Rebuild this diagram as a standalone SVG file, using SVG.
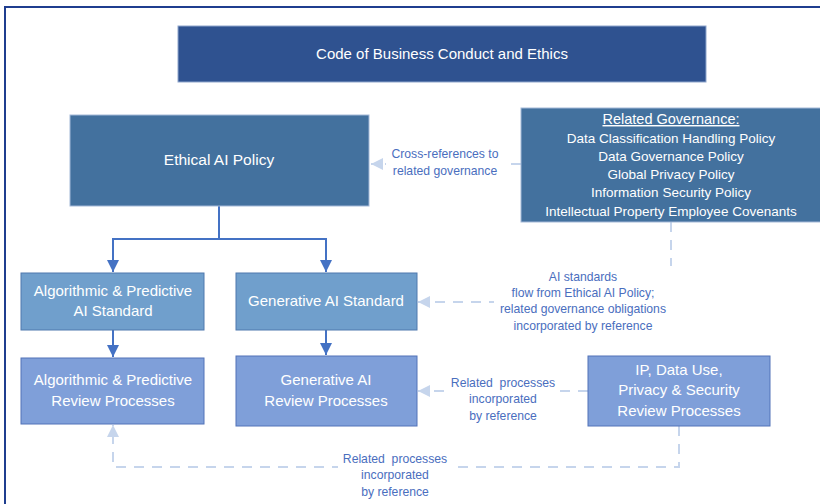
<svg xmlns="http://www.w3.org/2000/svg" width="820" height="504" viewBox="0 0 820 504">
  <defs>
    <style>
      .t { font-family: "Liberation Sans", Arial, sans-serif; fill: #ffffff; text-anchor: middle; }
      .b { font-size: 15px; }
      .g { font-size: 13.5px; }
      .lbl { font-family: "Liberation Sans", Arial, sans-serif; fill: #4A6EBE; text-anchor: middle; font-size: 12.2px; }
      .solid { fill: none; stroke: #4472C4; stroke-width: 2; }
      .dash { fill: none; stroke: #C6D5EC; stroke-width: 2; stroke-dasharray: 10 8; }
    </style>
    <marker id="ah" viewBox="0 0 10 10" refX="10" refY="5" markerWidth="6" markerHeight="6" orient="auto" markerUnits="strokeWidth">
      <path d="M0,0 L10,5 L0,10 Z" fill="#4472C4"/>
    </marker>
    <marker id="ahl" viewBox="0 0 10 10" refX="10" refY="5" markerWidth="6" markerHeight="6" orient="auto" markerUnits="strokeWidth">
      <path d="M0,0 L10,5 L0,10 Z" fill="#C6D5EC"/>
    </marker>
  </defs>
  <rect x="0" y="0" width="820" height="504" fill="#ffffff"/>
  <rect x="5" y="7" width="840" height="520" fill="none" stroke="#1F3E8F" stroke-width="2"/>

  <g id="connectors">
    <path class="solid" d="M219,206 V239 H113 V272" marker-end="url(#ah)"/>
    <path class="solid" d="M219,239 H326 V272" marker-end="url(#ah)"/>
    <path class="solid" d="M113,330 V357" marker-end="url(#ah)"/>
    <path class="solid" d="M326,330 V355" marker-end="url(#ah)"/>
    <path class="dash" d="M521,164 H371" marker-end="url(#ahl)"/>
    <path class="dash" d="M671,222 V302 H418" marker-end="url(#ahl)"/>
    <path class="dash" d="M588,391 H418" marker-end="url(#ahl)"/>
    <path class="dash" d="M679,426 V467 H113 V425" marker-end="url(#ahl)"/>
    <g id="connector-labels">
      <rect x="386" y="144" width="120" height="34" fill="#ffffff"/>
      <text class="lbl" x="445" y="158">Cross-references to</text>
      <text class="lbl" x="445" y="175">related governance</text>
      <rect x="494" y="266" width="178" height="66" fill="#ffffff"/>
      <text class="lbl" x="583" y="281">AI standards</text>
      <text class="lbl" x="583" y="297">flow from Ethical AI Policy;</text>
      <text class="lbl" x="583" y="313">related governance obligations</text>
      <text class="lbl" x="583" y="330">incorporated by reference</text>
      <rect x="446" y="374" width="112" height="48" fill="#ffffff"/>
      <text class="lbl" x="503" y="387" xml:space="preserve">Related  processes</text>
      <text class="lbl" x="503" y="403">incorporated</text>
      <text class="lbl" x="503" y="420">by reference</text>
      <rect x="338" y="450" width="114" height="48" fill="#ffffff"/>
      <text class="lbl" x="395" y="463" xml:space="preserve">Related  processes</text>
      <text class="lbl" x="395" y="479">incorporated</text>
      <text class="lbl" x="395" y="496">by reference</text>
    </g>
  </g>

  <g id="code-of-conduct">
    <rect x="178" y="26" width="528" height="56" fill="#2F5290" stroke="#8FA6CC" stroke-width="1"/>
    <text class="t" x="442" y="59" font-size="15">Code of Business Conduct and Ethics</text>
  </g>

  <g id="ethical-ai-policy">
    <rect x="70" y="115" width="299" height="91" fill="#43719E" stroke="#A4B9D8" stroke-width="1"/>
    <text class="t" x="219" y="165" font-size="15.5">Ethical AI Policy</text>
  </g>

  <g id="related-governance">
    <rect x="521" y="108" width="310" height="114" fill="#43719E" stroke="#A4B9D8" stroke-width="1"/>
    <text class="t" x="671" y="124" font-size="14.5" text-decoration="underline">Related Governance:</text>
    <text class="t g" x="671" y="142.5">Data Classification Handling Policy</text>
    <text class="t g" x="671" y="160.5">Data Governance Policy</text>
    <text class="t g" x="671" y="179">Global Privacy Policy</text>
    <text class="t g" x="671" y="197">Information Security Policy</text>
    <text class="t g" x="671" y="216">Intellectual Property Employee Covenants</text>
  </g>

  <g id="algorithmic-standard">
    <rect x="21" y="273" width="183" height="57" fill="#709FCC" stroke="#4F78AE" stroke-width="1"/>
    <text class="t b" x="113" y="296">Algorithmic &amp; Predictive</text>
    <text class="t b" x="113" y="316">AI Standard</text>
  </g>

  <g id="generative-standard">
    <rect x="236" y="273" width="181" height="57" fill="#709FCC" stroke="#4F78AE" stroke-width="1"/>
    <text class="t b" x="326" y="306">Generative AI Standard</text>
  </g>

  <g id="algorithmic-review">
    <rect x="21" y="358" width="183" height="66" fill="#7F9FD9" stroke="#5273B8" stroke-width="1"/>
    <text class="t b" x="113" y="385">Algorithmic &amp; Predictive</text>
    <text class="t b" x="113" y="406">Review Processes</text>
  </g>

  <g id="generative-review">
    <rect x="236" y="356" width="181" height="70" fill="#7F9FD9" stroke="#5273B8" stroke-width="1"/>
    <text class="t b" x="326" y="385">Generative AI</text>
    <text class="t b" x="326" y="406">Review Processes</text>
  </g>

  <g id="ip-review">
    <rect x="588" y="356" width="182" height="70" fill="#7F9FD9" stroke="#5273B8" stroke-width="1"/>
    <text class="t b" x="679" y="375">IP, Data Use,</text>
    <text class="t b" x="679" y="395">Privacy &amp; Security</text>
    <text class="t b" x="679" y="416">Review Processes</text>
  </g>
</svg>
